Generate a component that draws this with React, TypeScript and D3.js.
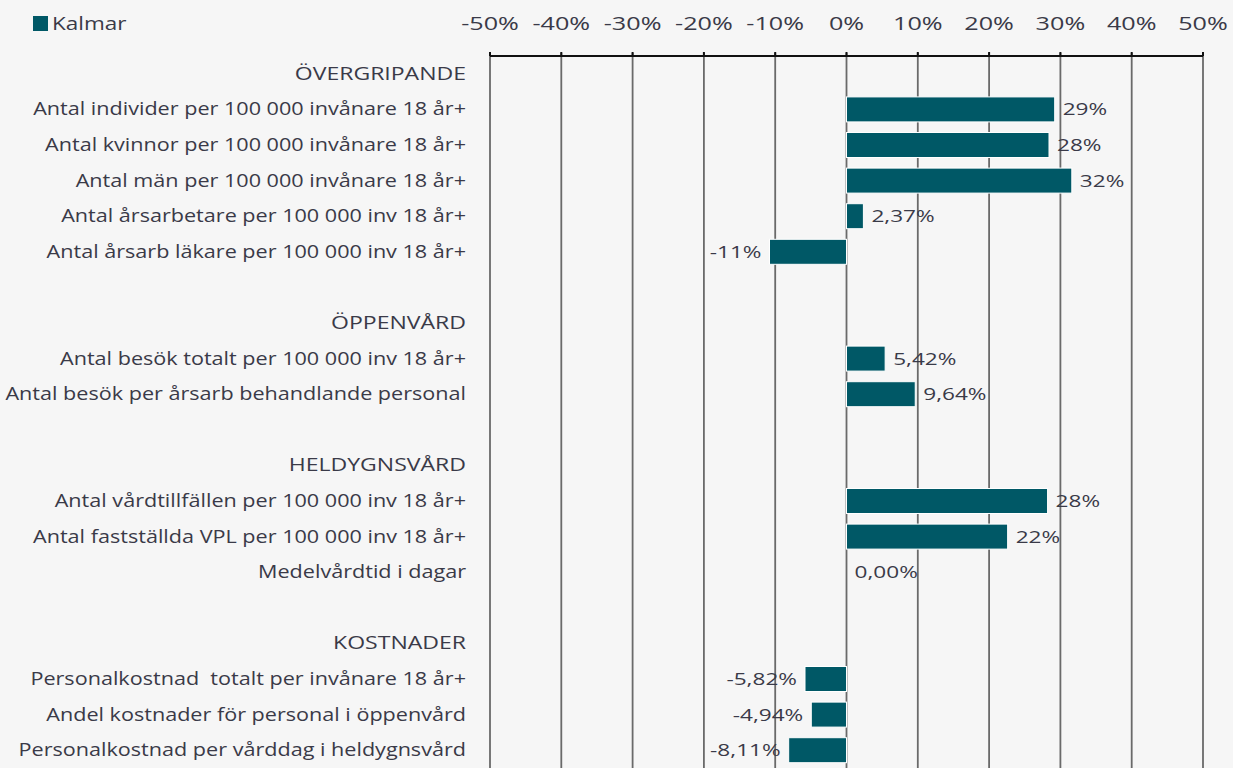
import React from "react";
import * as d3 from "d3";

const sections = ["ÖVERGRIPANDE", "ÖPPENVÅRD", "HELDYGNSVÅRD", "KOSTNADER"];
const sectionItems = [
  ["Antal individer per 100 000 invånare 18 år+", "Antal kvinnor per 100 000 invånare 18 år+", "Antal män per 100 000 invånare 18 år+", "Antal årsarbetare per 100 000 inv 18 år+", "Antal årsarb läkare per 100 000 inv 18 år+"],
  ["Antal besök totalt per 100 000 inv 18 år+", "Antal besök per årsarb behandlande personal"],
  ["Antal vårdtillfällen per 100 000 inv 18 år+", "Antal fastställda VPL per 100 000 inv 18 år+", "Medelvårdtid i dagar"],
  ["Personalkostnad  totalt per invånare 18 år+", "Andel kostnader för personal i öppenvård", "Personalkostnad per vårddag i heldygnsvård"],
];
const sectionValues = [
  [29.2, 28.4, 31.6, 2.37, -10.8],
  [5.42, 9.64],
  [28.2, 22.6, 0],
  [-5.82, -4.94, -8.11],
];
const sectionLabels = [
  ["29%", "28%", "32%", "2,37%", "-11%"],
  ["5,42%", "9,64%"],
  ["28%", "22%", "0,00%"],
  ["-5,82%", "-4,94%", "-8,11%"],
];
const ticks = [-50, -40, -30, -20, -10, 0, 10, 20, 30, 40, 50];
const seriesName = "Kalmar";

const W = 1233, H = 768;
const BAR = "#005866";
const TEXT = "#3a3a48";
const FONT = "'Open Sans', sans-serif";

type Row = { key: string; kind: "header" | "item" | "blank"; label: string; value?: number; vlabel?: string };

function SText(props: { x: number; y: number; sx: number; size: number; anchor?: string; children: React.ReactNode }) {
  return (
    <g transform={`translate(${props.x},${props.y}) scale(${props.sx},1)`}>
      <text x={0} y={0} textAnchor={props.anchor || "start"} fontFamily={FONT} fontSize={props.size} fill={TEXT} style={{ whiteSpace: "pre" }}>
        {props.children}
      </text>
    </g>
  );
}

export default function App() {
  const rows: Row[] = [];
  sections.forEach((s, si) => {
    if (si > 0) rows.push({ key: "blank" + si, kind: "blank", label: "" });
    rows.push({ key: "h" + si, kind: "header", label: s });
    sectionItems[si].forEach((c, ci) =>
      rows.push({ key: s + ci, kind: "item", label: c, value: sectionValues[si][ci], vlabel: sectionLabels[si][ci] })
    );
  });

  const x = d3.scaleLinear().domain([-50, 50]).range([490, 1203]);
  const y = d3.scaleBand<string>().domain(rows.map((r) => r.key)).range([56, 768]).paddingInner(0.3).paddingOuter(0.15);
  const bw = 25;
  const top = 56;

  return (
    <svg width={W} height={H} style={{ position: "absolute", left: 0, top: 0, display: "block", background: "#f6f6f6" }}>
      <rect x={0} y={0} width={W} height={H} fill="#f6f6f6" />
      {/* legend */}
      <rect x={33} y={16} width={15} height={15} fill={BAR} />
      <SText x={52} y={30} sx={1.25} size={18}>{seriesName}</SText>
      {/* tick labels */}
      {ticks.map((t) => (
        <SText key={"tl" + t} x={x(t)} y={30} sx={1.4} size={18} anchor="middle">
          {t + "%"}
        </SText>
      ))}
      {/* gridlines */}
      {ticks.map((t) => (
        <line key={"g" + t} x1={x(t)} x2={x(t)} y1={top - 3} y2={H} stroke="#6a6a6a" strokeWidth={1.8} />
      ))}
      {ticks.map((t) => (
        <line key={"tk" + t} x1={x(t)} x2={x(t)} y1={top - 4} y2={top} stroke="#111" strokeWidth={2} />
      ))}
      <line x1={x(-50)} x2={x(50)} y1={top} y2={top} stroke="#111" strokeWidth={2} />
      {rows.map((r) => {
        const cy = (y(r.key) as number) + y.bandwidth() / 2;
        if (r.kind === "blank") return null;
        if (r.kind === "header")
          return (
            <SText key={r.key} x={466} y={cy + 6} sx={1.28} size={18} anchor="end">
              {r.label}
            </SText>
          );
        const v = r.value as number;
        const x0 = x(Math.min(0, v));
        const x1 = x(Math.max(0, v));
        return (
          <g key={r.key}>
            <SText x={466} y={cy + 6} sx={1.2} size={18} anchor="end">
              {r.label}
            </SText>
            {v !== 0 && <rect x={x0} y={cy - bw / 2} width={x1 - x0} height={bw} fill={BAR} stroke="#fff" strokeWidth={1} />}
            <SText x={v < 0 ? x0 - 8 : x1 + 8} y={cy + 6} sx={1.33} size={17} anchor={v < 0 ? "end" : "start"}>
              {r.vlabel}
            </SText>
          </g>
        );
      })}
    </svg>
  );
}
